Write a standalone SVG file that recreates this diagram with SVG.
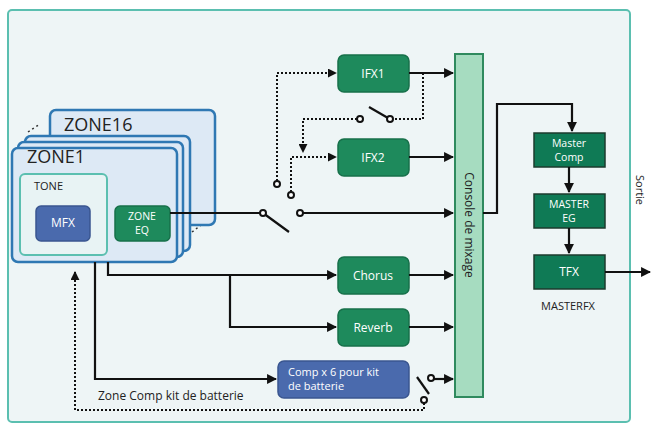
<svg xmlns="http://www.w3.org/2000/svg" width="654" height="428" viewBox="0 0 654 428">
<defs>
<marker id="ah" viewBox="0 0 10 10" refX="9" refY="5" markerWidth="4.5" markerHeight="4.5" orient="auto"><path d="M0,0L10,5L0,10z" fill="#111"/></marker>
<style>
text{font-family:"Open Sans","Noto Sans",sans-serif}
.fx{fill:#1e8a5c;stroke:#17704a;stroke-width:1.5}
.mfx{fill:#0f7a55;stroke:#1d3b2e;stroke-width:1.5}
.bl{fill:#4a6aad;stroke:#3a5690;stroke-width:1.5}
.wt{fill:#fff;font-size:12px;text-anchor:middle}
.w2{fill:#fff;font-size:10.5px;text-anchor:middle}
.ln{fill:none;stroke:#111;stroke-width:2.2}
.dt{fill:none;stroke:#111;stroke-width:2;stroke-dasharray:2 2}
.sw{fill:#fff;stroke:#111;stroke-width:2}
.zb{fill:#dde9f5;stroke:#2f78b3;stroke-width:2.5}
</style>
</defs>
<rect x="0" y="0" width="654" height="428" fill="#fff"/>
<rect x="8" y="10" width="622" height="412" rx="4" fill="#eef5f6" stroke="#5bbfb0" stroke-width="2"/>
<g id="zones">
<path d="M28,132L40,124M30,246L45,236M200,118L212,110M192,232L205,222" stroke="#333" stroke-width="1.5" stroke-dasharray="2 3"/>
<rect class="zb" x="50" y="110" width="165" height="115" rx="6"/>
<text x="64" y="131" font-size="18" fill="#222">ZONE16</text>
<rect class="zb" x="25" y="136" width="165" height="115" rx="6"/>
<rect class="zb" x="18" y="142" width="165" height="115" rx="6"/>
<rect class="zb" x="12" y="148" width="165" height="114" rx="6"/>
<text x="27" y="163" font-size="18" fill="#222">ZONE1</text>
<rect x="20" y="174" width="87" height="81" rx="5" fill="#e8f3f4" stroke="#5bbfb0" stroke-width="2"/>
<text x="34" y="190" font-size="11" fill="#222">TONE</text>
</g>
<g id="mfx"><rect class="bl" x="36" y="206" width="54" height="35" rx="5"/><text class="wt" x="63" y="227">MFX</text></g>
<g id="zoneeq"><rect class="fx" x="115" y="206" width="55" height="35" rx="5"/><text class="w2" x="142" y="220">ZONE</text><text class="w2" x="142" y="234">EQ</text></g>
<g id="ifx1"><rect class="fx" x="338" y="55" width="71" height="37" rx="6"/><text class="wt" x="373" y="78">IFX1</text></g>
<g id="ifx2"><rect class="fx" x="338" y="139" width="71" height="37" rx="6"/><text class="wt" x="373" y="162">IFX2</text></g>
<g id="chorus"><rect class="fx" x="338" y="257" width="71" height="37" rx="6"/><text class="wt" x="373" y="280">Chorus</text></g>
<g id="reverb"><rect class="fx" x="338" y="309" width="71" height="37" rx="6"/><text class="wt" x="373" y="332">Reverb</text></g>
<g id="comp"><rect class="bl" x="278" y="361" width="131" height="37" rx="6"/><text x="288" y="376" font-size="11" fill="#fff">Comp x 6 pour kit</text><text x="288" y="390" font-size="11" fill="#fff">de batterie</text></g>
<g id="console"><rect x="455" y="54" width="28" height="343" fill="#a6dcc0" stroke="#2f8a5e" stroke-width="2"/><text transform="translate(465,225) rotate(90)" font-size="12" fill="#222" text-anchor="middle">Console de mixage</text></g>
<g id="mastercomp"><rect class="mfx" x="534" y="133" width="71" height="34"/><text class="w2" x="569" y="147">Master</text><text class="w2" x="569" y="161">Comp</text></g>
<g id="mastereg"><rect class="mfx" x="534" y="194" width="71" height="34"/><text class="w2" x="569" y="208">MASTER</text><text class="w2" x="569" y="222">EG</text></g>
<g id="tfx"><rect class="mfx" x="534" y="255" width="71" height="34"/><text class="wt" x="569" y="276">TFX</text></g>
<text x="568" y="310" font-size="11" fill="#222" text-anchor="middle">MASTERFX</text>
<text transform="translate(636,190) rotate(90)" font-size="11" fill="#222" text-anchor="middle">Sortie</text>
<text x="98" y="400" font-size="12" fill="#222">Zone Comp kit de batterie</text>
<g id="connectors">
<path class="ln" d="M409,73H453" marker-end="url(#ah)"/>
<path class="ln" d="M409,157H453" marker-end="url(#ah)"/>
<path class="ln" d="M409,275H453" marker-end="url(#ah)"/>
<path class="ln" d="M409,327H453" marker-end="url(#ah)"/>
<path class="ln" d="M170,213H260M263,213L289,232"/>
<path class="ln" d="M303,213H453" marker-end="url(#ah)"/>
<path class="ln" d="M108,262V275H336" marker-end="url(#ah)"/>
<path class="ln" d="M230,275V327H336" marker-end="url(#ah)"/>
<path class="ln" d="M95,262V379H276" marker-end="url(#ah)"/>
<path class="ln" d="M434,379H453" marker-end="url(#ah)"/>
<path class="ln" d="M417,377L429,394"/>
<path class="dt" d="M277,181V73H336" marker-end="url(#ah)"/>
<path class="dt" d="M291,192V157H336" marker-end="url(#ah)"/>
<path class="dt" d="M423,73V119H393"/>
<path class="ln" d="M369,107L388,118"/>
<path class="dt" d="M357,119H303V152" marker-end="url(#ah)"/>
<path class="dt" d="M424,403V410H75V272" marker-end="url(#ah)"/>
<path class="ln" d="M483,213H497V104H572V131" marker-end="url(#ah)"/>
<path class="ln" d="M569,167V192" marker-end="url(#ah)"/>
<path class="ln" d="M569,228V253" marker-end="url(#ah)"/>
<path class="ln" d="M605,272H650" marker-end="url(#ah)"/>
<circle class="sw" cx="263" cy="213" r="3"/>
<circle class="sw" cx="300" cy="213" r="3"/>
<circle class="sw" cx="277" cy="184" r="3"/>
<circle class="sw" cx="291" cy="195" r="3"/>
<circle class="sw" cx="360" cy="119" r="3"/>
<circle class="sw" cx="390" cy="119" r="3"/>
<circle class="sw" cx="431" cy="378" r="3"/>
<circle class="sw" cx="424" cy="400" r="3"/>
</g>
</svg>
